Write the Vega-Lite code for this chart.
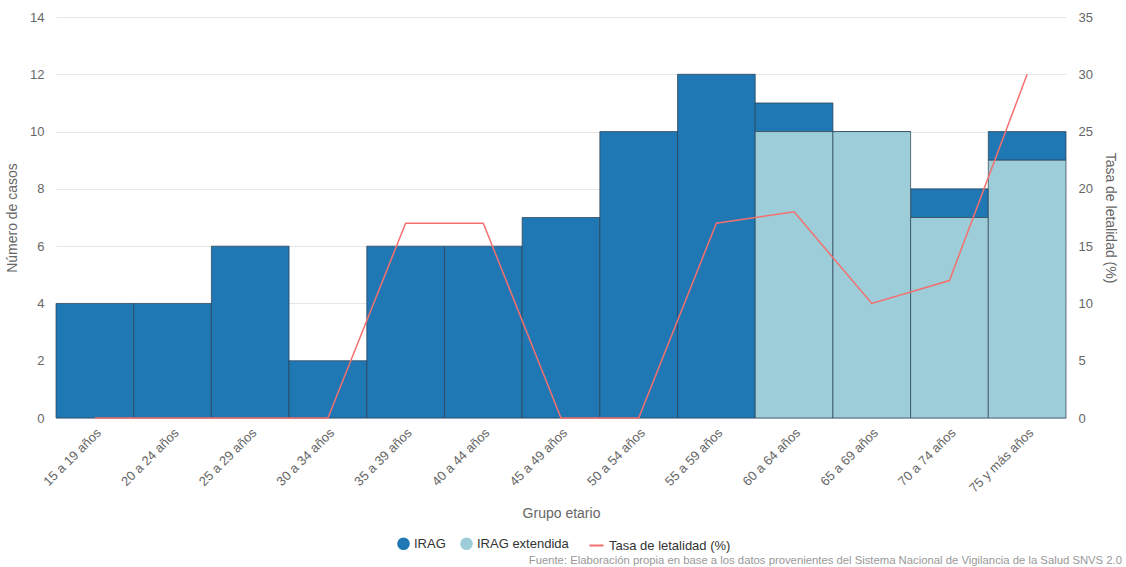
{
  "$schema": "https://vega.github.io/schema/vega-lite/v6.json",
  "autosize": "none",
  "width": 1010,
  "height": 401,
  "padding": {"left": 56, "top": 17, "right": 60, "bottom": 149},
  "background": "#ffffff",
  "config": {
    "view": {"stroke": null},
    "font": "Liberation Sans",
    "axis": {"labelFont": "Liberation Sans", "titleFont": "Liberation Sans", "labelColor": "#666666", "titleColor": "#666666", "labelFontSize": 12, "titleFontSize": 14, "titleFontWeight": "normal", "gridColor": "#e6e6e6", "ticks": false, "domain": false}
  },
  "title": {"text": "Fuente: Elaboración propia en base a los datos provenientes del Sistema Nacional de Vigilancia de la Salud SNVS 2.0", "orient": "bottom", "anchor": "end", "frame": "group", "fontSize": 11.3, "fontWeight": "normal", "color": "#999999", "font": "Liberation Sans", "offset": 0, "dy": 2, "dx": 56},
  "datasets": {
    "casos": [
      {"grupo": "15 a 19 años", "serie": "IRAG", "orden": 1, "valor": 4},
      {"grupo": "20 a 24 años", "serie": "IRAG", "orden": 1, "valor": 4},
      {"grupo": "25 a 29 años", "serie": "IRAG", "orden": 1, "valor": 6},
      {"grupo": "30 a 34 años", "serie": "IRAG", "orden": 1, "valor": 2},
      {"grupo": "35 a 39 años", "serie": "IRAG", "orden": 1, "valor": 6},
      {"grupo": "40 a 44 años", "serie": "IRAG", "orden": 1, "valor": 6},
      {"grupo": "45 a 49 años", "serie": "IRAG", "orden": 1, "valor": 7},
      {"grupo": "50 a 54 años", "serie": "IRAG", "orden": 1, "valor": 10},
      {"grupo": "55 a 59 años", "serie": "IRAG", "orden": 1, "valor": 12},
      {"grupo": "60 a 64 años", "serie": "IRAG", "orden": 1, "valor": 1},
      {"grupo": "65 a 69 años", "serie": "IRAG", "orden": 1, "valor": 0},
      {"grupo": "70 a 74 años", "serie": "IRAG", "orden": 1, "valor": 1},
      {"grupo": "75 y más años", "serie": "IRAG", "orden": 1, "valor": 1},
      {"grupo": "60 a 64 años", "serie": "IRAG extendida", "orden": 0, "valor": 10},
      {"grupo": "65 a 69 años", "serie": "IRAG extendida", "orden": 0, "valor": 10},
      {"grupo": "70 a 74 años", "serie": "IRAG extendida", "orden": 0, "valor": 7},
      {"grupo": "75 y más años", "serie": "IRAG extendida", "orden": 0, "valor": 9}
    ],
    "tasa": [
      {"grupo": "15 a 19 años", "tasa": 0},
      {"grupo": "20 a 24 años", "tasa": 0},
      {"grupo": "25 a 29 años", "tasa": 0},
      {"grupo": "30 a 34 años", "tasa": 0},
      {"grupo": "35 a 39 años", "tasa": 17},
      {"grupo": "40 a 44 años", "tasa": 17},
      {"grupo": "45 a 49 años", "tasa": 0},
      {"grupo": "50 a 54 años", "tasa": 0},
      {"grupo": "55 a 59 años", "tasa": 17},
      {"grupo": "60 a 64 años", "tasa": 18},
      {"grupo": "65 a 69 años", "tasa": 10},
      {"grupo": "70 a 74 años", "tasa": 12},
      {"grupo": "75 y más años", "tasa": 30}
    ]
  },
  "encoding": {
    "x": {"field": "grupo", "type": "nominal", "sort": null,
      "scale": {"paddingInner": 0, "paddingOuter": 0},
      "axis": {"title": "Grupo etario", "labelAngle": -45, "labelFontSize": 13, "labelColor": "#666666", "titlePadding": 12, "domain": true, "domainColor": "#ccd6eb", "labelPadding": 8}}
  },
  "layer": [
    {
      "data": {"name": "casos"},
      "mark": {"type": "bar", "stroke": "#2b3f4f", "strokeWidth": 1, "strokeOpacity": 0.7},
      "encoding": {
        "y": {"field": "valor", "type": "quantitative", "stack": "zero",
          "scale": {"domain": [0, 14]},
          "axis": {"title": "Número de casos", "values": [0, 2, 4, 6, 8, 10, 12, 14], "grid": true, "labelFontSize": 13, "labelColor": "#666666", "titlePadding": 10, "labelPadding": 12}},
        "color": {"field": "serie", "type": "nominal",
          "scale": {"domain": ["IRAG", "IRAG extendida"], "range": ["#1f77b4", "#9ccdd9"]},
          "legend": {"title": null, "orient": "none", "legendX": 341, "legendY": 520, "direction": "horizontal", "symbolType": "circle", "symbolSize": 160, "labelFontSize": 13, "labelColor": "#333333", "labelFont": "Liberation Sans", "columnPadding": 14, "symbolStrokeWidth": 0}},
        "order": {"field": "orden", "type": "quantitative"}
      }
    },
    {
      "data": {"name": "tasa"},
      "mark": {"type": "line", "strokeWidth": 1.5},
      "encoding": {
        "y": {"field": "tasa", "type": "quantitative",
          "scale": {"domain": [0, 35]},
          "axis": {"title": "Tasa de letalidad (%)", "orient": "right", "values": [0, 5, 10, 15, 20, 25, 30, 35], "grid": false, "labelFontSize": 13, "labelColor": "#666666", "titlePadding": 10, "labelPadding": 12}},
        "stroke": {"datum": "Tasa de letalidad (%)", "type": "nominal",
          "scale": {"range": ["#f4706f"]},
          "legend": {"title": null, "orient": "none", "legendX": 532, "legendY": 520, "symbolType": "stroke", "symbolStrokeWidth": 2, "symbolSize": 200, "labelFontSize": 13, "labelColor": "#333333", "labelFont": "Liberation Sans"}}
      }
    }
  ],
  "resolve": {"scale": {"y": "independent"}}
}
